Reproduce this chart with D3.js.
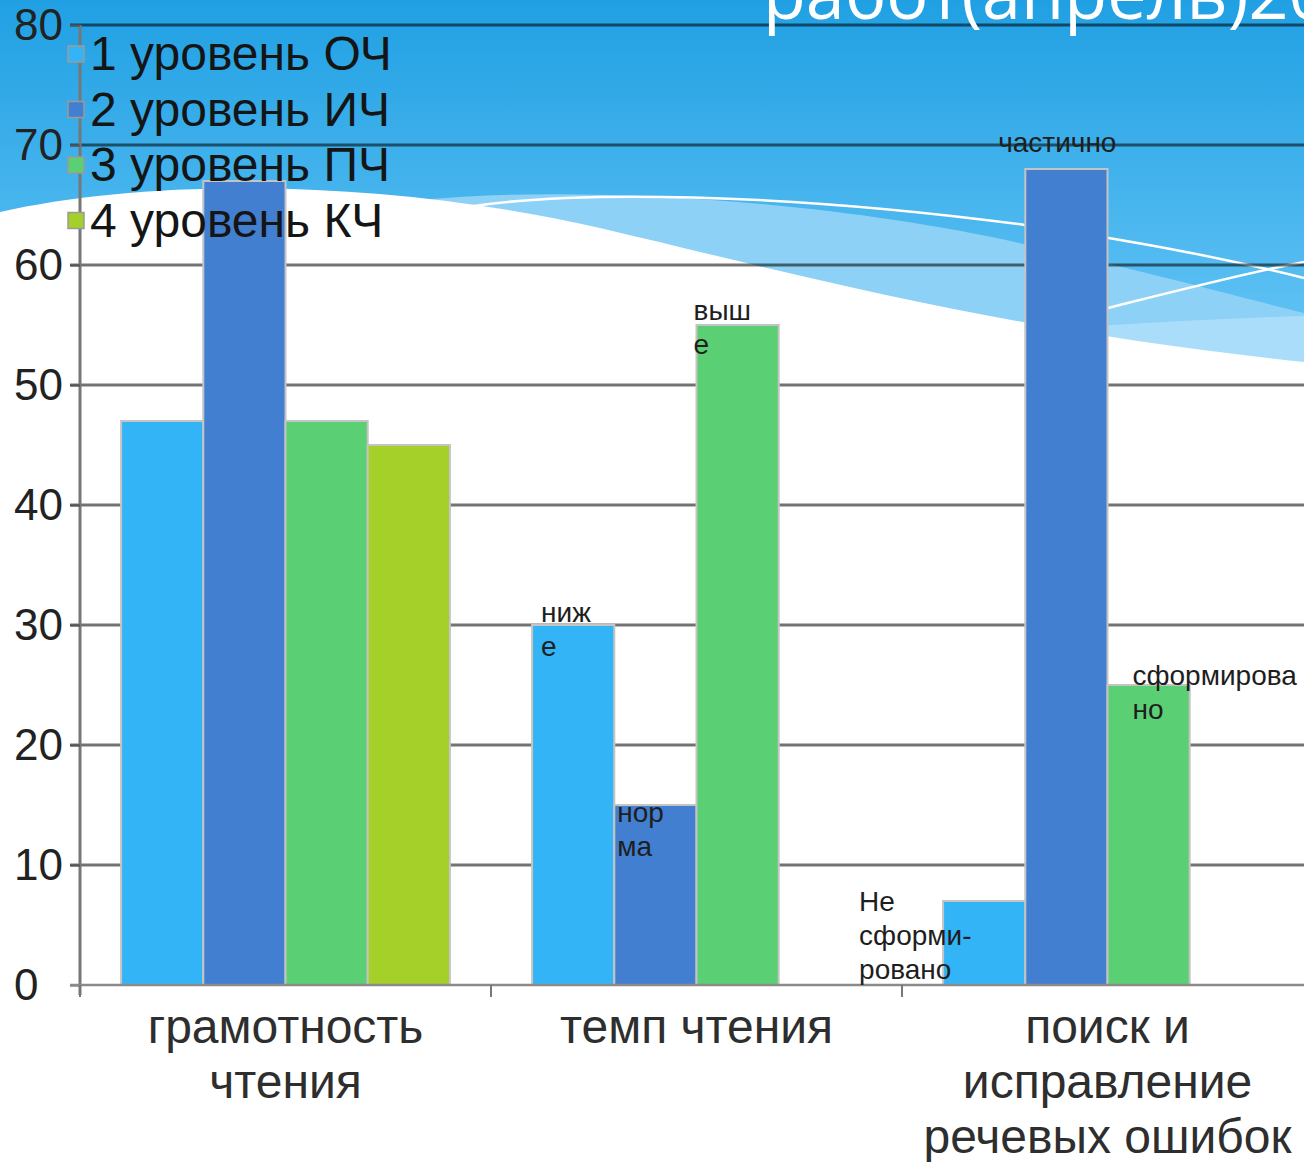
<!DOCTYPE html>
<html lang="ru">
<head>
<meta charset="utf-8">
<script src="https://cdn.jsdelivr.net/npm/d3@7"></script>
<style>
  html, body { margin: 0; padding: 0; background: #fff; }
  svg { display: block; font-family: "Liberation Sans", Arial, sans-serif; }
</style>
</head>
<body>
<svg id="chart" width="1304" height="1162"></svg>
<script>
// Chart data
const categories = ['грамотность чтения', 'темп чтения', 'поиск и исправление речевых ошибок'];
const categoryLines = [['грамотность', 'чтения'], ['темп чтения'], ['поиск и', 'исправление', 'речевых ошибок']];
const series = ['1 уровень ОЧ', '2 уровень ИЧ', '3 уровень ПЧ', '4 уровень КЧ'];
const seriesColors = ['#33b4f6', '#437fd0', '#5bcf73', '#a5cf29'];
const values = [
  [47, 67, 47, 45],
  [30, 15, 55, 0],
  [7, 68, 25, 0]
];
const yTicks = [0, 10, 20, 30, 40, 50, 60, 70, 80];

// Text labels sitting on some bars: [category, series, lines]
const barLabels = [
  [1, 0, ['ниж', 'е']],
  [1, 1, ['нор', 'ма']],
  [1, 2, ['выш', 'е']],
  [2, 0, ['Не', 'сформи-', 'ровано']],
  [2, 1, ['частично']],
  [2, 2, ['сформирова', 'но']]
];
// where each label sits relative to its bar (left edge / top)
const labelOffsets = [
  { dx: 9, dy: -3, anchor: 'start' },
  { dx: 3, dy: 17, anchor: 'start' },
  { dx: -3, dy: -5, anchor: 'start' },
  { dx: -84, dy: 10, anchor: 'start' },
  { dx: 32, dy: -17, anchor: 'middle' },
  { dx: 25, dy: 0, anchor: 'start' }
];

const width = 1304;
const height = 1162;
const svg = d3.select('#chart');

// ---- slide background ----
const defs = svg.append('defs');
const grad = defs.append('linearGradient')
  .attr('id', 'sky')
  .attr('x1', 0).attr('y1', 0).attr('x2', 0).attr('y2', 1);
grad.append('stop').attr('offset', '0%').attr('stop-color', '#20a0e3');
grad.append('stop').attr('offset', '100%').attr('stop-color', '#68c6f6');

const bg = svg.append('g').attr('class', 'background');
bg.append('rect').attr('width', width).attr('height', height).attr('fill', '#fff');
bg.append('rect').attr('width', width).attr('height', 370).attr('fill', 'url(#sky)');

// lighter band under the main blue
bg.append('path')
  .attr('d', 'M420,200 C600,183 850,205 1019,243 C1150,272 1250,300 1304,313 L1304,370 L420,370 Z')
  .attr('fill', '#8dd1f7');
bg.append('path')
  .attr('d', 'M1040,330 C1150,322 1240,318 1304,316 L1304,370 L1040,370 Z')
  .attr('fill', '#a9ddf9');

// white wave
bg.append('path')
  .attr('d', 'M0,212 C150,178 380,178 600,228 C800,275 1000,330 1304,362 L1304,380 L0,380 Z')
  .attr('fill', '#fff');

// thin white lines
bg.append('path')
  .attr('d', 'M440,212 C560,186 800,195 1025,225 C1150,243 1240,262 1304,278')
  .attr('fill', 'none')
  .attr('stroke', '#fff')
  .attr('stroke-width', 2.5);
bg.append('path')
  .attr('d', 'M1100,310 C1180,290 1250,272 1304,262')
  .attr('fill', 'none')
  .attr('stroke', '#fff')
  .attr('stroke-width', 2.5);

// ---- scales ----
const plotLeft = 80;
const plotRight = 1313;
const y = d3.scaleLinear().domain([0, 80]).range([985, 25]);
const x0 = d3.scaleBand().domain(categories).range([plotLeft, plotRight]);
const x1 = d3.scaleBand().domain(series).range([0, x0.bandwidth()]).paddingOuter(0.5);

// ---- gridlines ----
svg.append('g')
  .attr('class', 'grid')
  .selectAll('line')
  .data(yTicks.filter(d => d > 0))
  .join('line')
  .attr('x1', plotLeft - 10)
  .attr('x2', plotRight)
  .attr('y1', d => y(d))
  .attr('y2', d => y(d))
  .attr('stroke', '#000')
  .attr('stroke-opacity', 0.55)
  .attr('stroke-width', 3);

// slide title (mostly off the top of the picture), drawn over the grid
svg.append('text')
  .attr('x', 763)
  .attr('y', 19)
  .attr('fill', '#fff')
  .attr('font-family', '"Open Sans", sans-serif')
  .attr('font-size', 70)
  .text('работ(апрель)20');

// ---- bars ----
const groups = svg.append('g')
  .attr('class', 'bars')
  .selectAll('g')
  .data(values)
  .join('g')
  .attr('transform', (d, i) => `translate(${x0(categories[i])},0)`);

groups.selectAll('rect')
  .data(d => d.map((v, j) => ({ v, s: series[j], color: seriesColors[j] })))
  .join('rect')
  .filter(d => d.v > 0)
  .attr('x', d => x1(d.s))
  .attr('y', d => y(d.v))
  .attr('width', x1.bandwidth())
  .attr('height', d => y(0) - y(d.v))
  .attr('fill', d => d.color)
  .attr('stroke', '#c4c4c4')
  .attr('stroke-width', 2);

// ---- axes ----
const yAxis = svg.append('g')
  .attr('class', 'y-axis')
  .attr('transform', `translate(${plotLeft},0)`)
  .call(d3.axisLeft(y).tickValues(yTicks).tickSize(10).tickPadding(6));

yAxis.select('.domain')
  .attr('stroke', '#777')
  .attr('stroke-width', 3)
  .attr('d', `M0,${y(80)}V${y(0) + 10}`);
yAxis.selectAll('.tick line').attr('stroke', '#555').attr('stroke-width', 2);
// tick labels are left-aligned in the original
yAxis.selectAll('.tick text')
  .attr('x', -66)
  .attr('text-anchor', 'start')
  .attr('font-size', 44)
  .attr('font-family', '"Liberation Sans", Arial, sans-serif')
  .attr('fill', '#222');

// baseline and category ticks
const xAxis = svg.append('g').attr('class', 'x-axis');
xAxis.append('line')
  .attr('x1', plotLeft - 10)
  .attr('x2', plotRight)
  .attr('y1', y(0))
  .attr('y2', y(0))
  .attr('stroke', '#8a8a8a')
  .attr('stroke-width', 2.5);
xAxis.selectAll('.cat-tick')
  .data(categories.concat([null]))
  .join('line')
  .attr('class', 'cat-tick')
  .attr('x1', d => d === null ? plotRight : x0(d))
  .attr('x2', d => d === null ? plotRight : x0(d))
  .attr('y1', y(0))
  .attr('y2', y(0) + 12)
  .attr('stroke', '#777')
  .attr('stroke-width', 2);

// category labels
xAxis.selectAll('.cat-label')
  .data(categories)
  .join('text')
  .attr('class', 'cat-label')
  .attr('text-anchor', 'middle')
  .attr('font-size', 48)
  .attr('fill', '#2e2e2e')
  .each(function (d, i) {
    const cx = x0(d) + x0.bandwidth() / 2;
    d3.select(this).selectAll('tspan')
      .data(categoryLines[i])
      .join('tspan')
      .attr('x', cx)
      .attr('y', (t, k) => 1043 + k * 55)
      .text(t => t);
  });

// ---- labels on bars ----
svg.append('g')
  .attr('class', 'bar-labels')
  .selectAll('text')
  .data(barLabels)
  .join('text')
  .attr('font-size', 28)
  .attr('fill', '#1e1e1e')
  .each(function ([c, s, lines], i) {
    const off = labelOffsets[i];
    const bx = x0(categories[c]) + x1(series[s]) + off.dx;
    const by = y(values[c][s]) + off.dy;
    d3.select(this)
      .attr('text-anchor', off.anchor)
      .selectAll('tspan')
      .data(lines)
      .join('tspan')
      .attr('x', bx)
      .attr('y', (t, k) => by + k * 34)
      .text(t => t);
  });

// ---- legend ----
const legend = svg.append('g').attr('class', 'legend');
const items = legend.selectAll('g')
  .data(series)
  .join('g')
  .attr('transform', (d, i) => `translate(68,${54 + i * 55.5})`);

items.append('rect')
  .attr('x', 0)
  .attr('y', -8)
  .attr('width', 16)
  .attr('height', 16)
  .attr('fill', (d, i) => seriesColors[i])
  .attr('stroke', '#9a9a9a')
  .attr('stroke-width', 1.5);

items.append('text')
  .attr('x', 22)
  .attr('y', 16)
  .attr('font-size', 48)
  .attr('fill', '#151515')
  .text(d => d);
</script>
</body>
</html>
